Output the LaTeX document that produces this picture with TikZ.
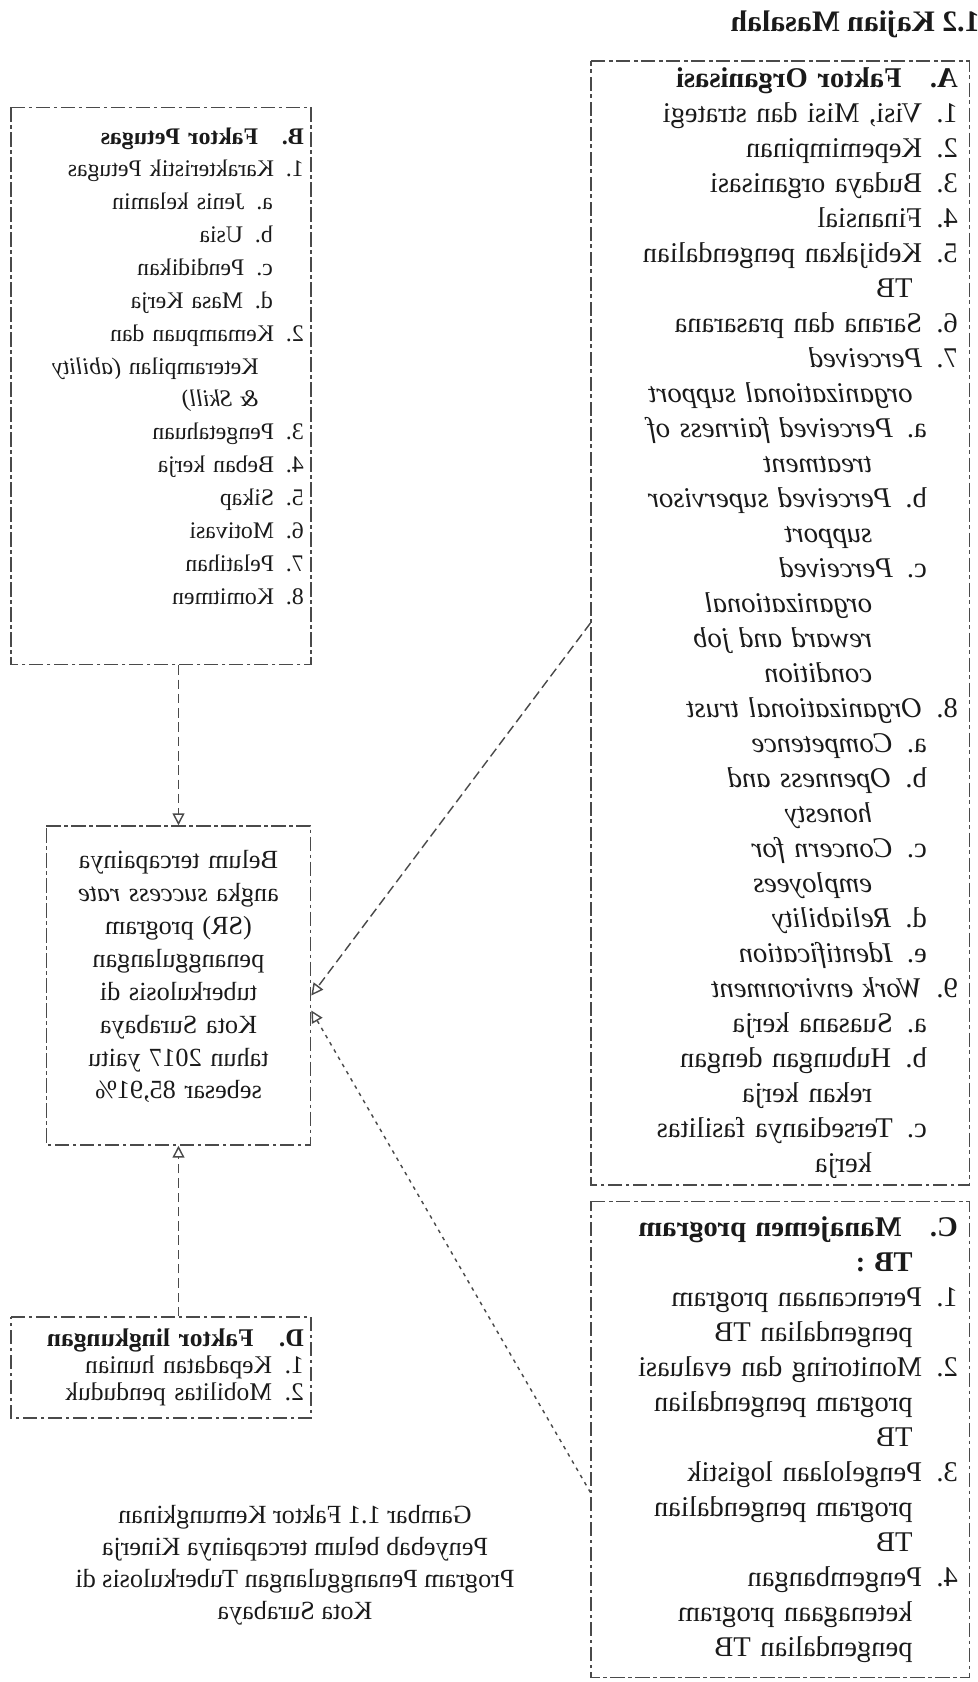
\documentclass[tikz,border=0pt]{standalone}
\usepackage{fontspec}
\setmainfont{Liberation Serif}
\usetikzlibrary{positioning,arrows.meta,calc}
\definecolor{tinta}{HTML}{1A1A1A}
\definecolor{garis}{HTML}{4A4A4A}
\newcommand{\lanjut}[1]{\hspace*{19pt}#1}
\newcommand{\huruf}[1]{\hspace*{13pt}#1}
\newcommand{\lanjuthuruf}[1]{\hspace*{36pt}#1}
\tikzset{
  kotak/.style={draw=garis, dash pattern=on 6pt off 1.5pt on 1.5pt off 1.5pt, line width=0.6pt, align=left, inner xsep=5pt, inner ysep=0pt, text=tinta},
  teksbesar/.style={font=\fontsize{12}{14.7}\selectfont},
  tekskecil/.style={font=\fontsize{11}{13.8}\selectfont},
  hubung/.style={-{Triangle[open, length=5pt, width=5pt]}, draw=garis, line width=0.6pt, dash pattern=on 4pt off 2pt},
}

\begin{document}
\begin{tikzpicture}[x=0.42pt, y=-0.42pt, xscale=-1, transform shape]
    % the scan is mirrored: draw the page, then flip it
    \useasboundingbox (0,0) rectangle (978,1682);
    \node[anchor=west, font=\bfseries\fontsize{12.5}{14}\selectfont, text=tinta] (judul) at (-10, 24) {1.2 Kajian Masalah};
    % left column
    \node[kotak, teksbesar, text width=149pt, minimum height=472pt] (faktorA) at (197.5, 623) {%
      \textbf{A.\quad Faktor Organisasi}\\
      1. Visi, Misi dan strategi\\
      2. Kepemimpinan\\
      3. Budaya organisasi\\
      4. Finansial\\
      5. Kebijakan pengendalian\\
      \lanjut{TB}\\
      6. Sarana dan prasarana\\
      7. \textit{Perceived}\\
      \lanjut{\textit{organizational support}}\\
      \huruf{a. \textit{Perceived fairness of}}\\
      \lanjuthuruf{\textit{treatment}}\\
      \huruf{b. \textit{Perceived supervisor}}\\
      \lanjuthuruf{\textit{support}}\\
      \huruf{c. \textit{Perceived}}\\
      \lanjuthuruf{\textit{organizational}}\\
      \lanjuthuruf{\textit{reward and job}}\\
      \lanjuthuruf{\textit{condition}}\\
      8. \textit{Organizational trust}\\
      \huruf{a. \textit{Competence}}\\
      \huruf{b. \textit{Openness and}}\\
      \lanjuthuruf{\textit{honesty}}\\
      \huruf{c. \textit{Concern for}}\\
      \lanjuthuruf{\textit{employees}}\\
      \huruf{d. \textit{Reliability}}\\
      \huruf{e. \textit{Identification}}\\
      9. \textit{Work environment}\\
      \huruf{a. Suasana kerja}\\
      \huruf{b. Hubungan dengan}\\
      \lanjuthuruf{rekan kerja}\\
      \huruf{c. Tersedianya fasilitas}\\
      \lanjuthuruf{kerja}};
    \node[kotak, teksbesar, text width=149pt, minimum height=200pt] (faktorC) at (197.5, 1439.5) {%
      \textbf{C.\quad Manajemen program}\\
      \lanjut{\textbf{TB :}}\\
      1. Perencanaan program\\
      \lanjut{pengendalian TB}\\
      2. Monitoring dan evaluasi\\
      \lanjut{program pengendalian}\\
      \lanjut{TB}\\
      3. Pengelolaan logistik\\
      \lanjut{program pengendalian}\\
      \lanjut{TB}\\
      4. Pengembangan\\
      \lanjut{ketenagaan program}\\
      \lanjut{pengendalian TB}};
    % right column
    \node[kotak, font=\fontsize{10}{13.8}\selectfont, inner xsep=3pt, text width=120pt, minimum height=234pt] (faktorB) at (817, 386) {%
      \textbf{B.\quad Faktor Petugas}\\
      1. Karakteristik Petugas\\
      \huruf{a. Jenis kelamin}\\
      \huruf{b. Usia}\\
      \huruf{c. Pendidikan}\\
      \huruf{d. Masa Kerja}\\
      2. Kemampuan dan\\
      \lanjut{Keterampilan \textit{(ability}}\\
      \lanjut{\textit{\& Skill)}}\\
      3. Pengetahuan\\
      4. Beban kerja\\
      5. Sikap\\
      6. Motivasi\\
      7. Pelatihan\\
      8. Komitmen\rule[-17pt]{0pt}{0pt}};
    \node[kotak, tekskecil, align=center, text width=101pt, minimum height=134pt] (masalah) at (799.5, 985.5) {%
      Belum tercapainya\\
      angka \textit{success rate}\\
      (SR) program\\
      penanggulangan\\
      tuberkulosis di\\
      Kota Surabaya\\
      tahun 2017 yaitu\\
      sebesar 85,91\%\rule[-9pt]{0pt}{0pt}};
    \node[kotak, font=\fontsize{10.7}{11.3}\selectfont, inner xsep=3pt, text width=120pt, minimum height=42.4pt] (faktorD) at (817, 1367.5) {%
      \textbf{D.\quad Faktor lingkungan}\\
      1. Kepadatan hunian\\
      2. Mobilitas penduduk};
    % caption
    \node[font=\fontsize{11}{13.5}\selectfont, align=center, text=tinta] (keterangan) at (683, 1565) {%
      Gambar 1.1 Faktor Kemungkinan\\
      Penyebab belum tercapainya Kinerja\\
      Program Penanggulangan Tuberkulosis di\\
      Kota Surabaya};
    % links
    \draw[hubung] (faktorB.south -| masalah.north) -- (masalah.north);
    \draw[hubung] (faktorD.north -| masalah.south) -- (masalah.south);
    \draw[hubung] (faktorA.east) -- ($(masalah.west)+(0,10)$);
    \draw[hubung, dash pattern=on 1.5pt off 2pt] ($(faktorC.east)+(0,53)$) -- ($(masalah.west)+(0,25)$);
\end{tikzpicture}
\end{document}
